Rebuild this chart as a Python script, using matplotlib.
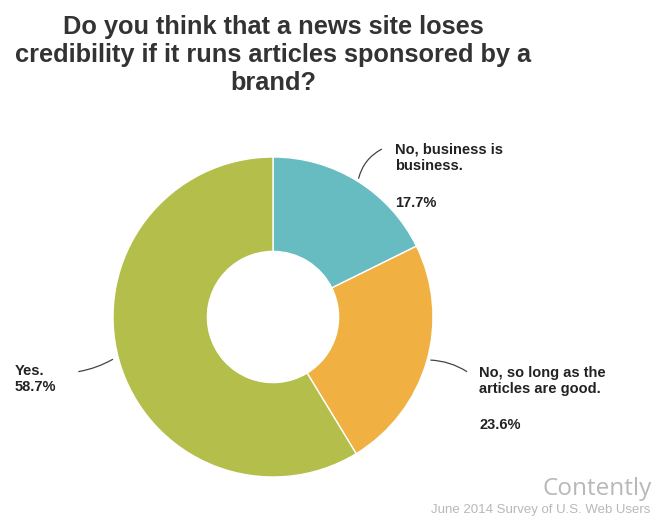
import matplotlib.pyplot as plt

# survey answers, clockwise from 12 o'clock
answers = ['No, business is\nbusiness.', 'No, so long as the\narticles are good.', 'Yes.']
shares = [17.7, 23.6, 58.7]
colors = ['#67bcc2', '#f0b142', '#b4be4a']

W, H = 654, 523
plt.rcParams['font.family'] = ['Liberation Sans', 'DejaVu Sans']

fig = plt.figure(figsize=(W / 100, H / 100), dpi=100)
ax = fig.add_axes([0, 0, 1, 1])
ax.set_xlim(0, W)
ax.set_ylim(0, H)
ax.set_aspect('equal')
ax.axis('off')


def py(y):
    # pixel rows counted from the top
    return H - y


cx, cy, r = 273, py(317), 160
ax.pie(shares, colors=colors, startangle=90, counterclock=False,
       center=(cx, cy), radius=r,
       wedgeprops=dict(width=r * 0.59, edgecolor='white', linewidth=1))
ax.set_xlim(0, W)
ax.set_ylim(0, H)

ax.text(273, py(55), 'Do you think that a news site loses\ncredibility if it runs articles sponsored by a\nbrand?',
        ha='center', va='center', fontsize=18.3, fontweight='bold', color='#333333',
        linespacing=1.22)

lab = dict(fontsize=10.5, fontweight='bold', color='#222222', va='center', ha='left')
line = dict(arrowstyle='-', color='#444444', lw=0.9)

# teal slice
ax.text(395, py(158), answers[0], linespacing=1.2, **lab)
ax.text(395, py(203), f'{shares[0]}%', **lab)
ax.annotate('', xy=(358, py(181)), xytext=(384, py(148)),
            arrowprops=dict(connectionstyle='arc3,rad=0.25', **line))

# orange slice
ax.text(479, py(381), answers[1], linespacing=1.2, **lab)
ax.text(479, py(425), f'{shares[1]}%', **lab)
ax.annotate('', xy=(428, py(360)), xytext=(469, py(373)),
            arrowprops=dict(connectionstyle='arc3,rad=0.15', **line))

# green slice
ax.text(15, py(379), f'{answers[2]}\n{shares[2]}%', linespacing=1.2, **lab)
ax.annotate('', xy=(115, py(358)), xytext=(76, py(372)),
            arrowprops=dict(connectionstyle='arc3,rad=0.1', **line))

ax.text(652, py(489), 'Contently', ha='right', va='center', fontsize=17.5,
        color='#b8b8b8', family=['Open Sans', 'DejaVu Sans'])
ax.text(650, py(510), 'June 2014 Survey of U.S. Web Users', ha='right', va='center',
        fontsize=9.5, color='#b8b8b8')

fig.savefig('out.png', dpi=100, facecolor='white')
